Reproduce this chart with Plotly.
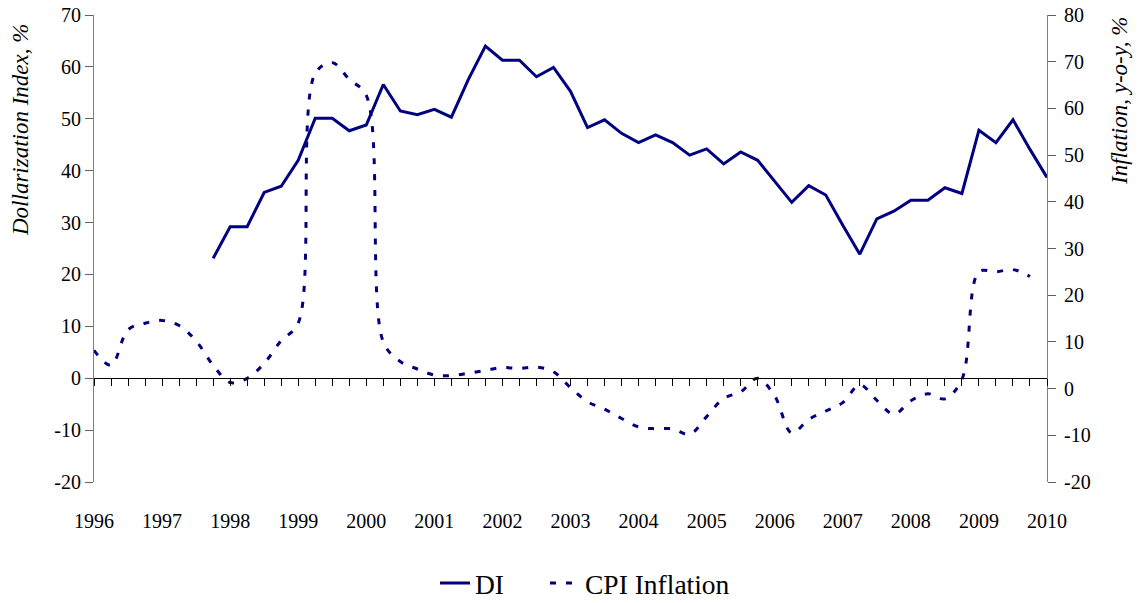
import plotly.graph_objects as go

# Quarterly time index: 1996Q1 ... 2010Q1 (year labels on the axis)
years = list(range(1996, 2011))
quarters = [1996 + i / 4 for i in range(57)]
quarter_text = [str(int(q)) if q == int(q) else "" for q in quarters]

# Dollarization Index (%), 1997Q4 .. 2010Q1 (left axis)
di_x = quarters[7:]
di_values = [23.1, 29.2, 29.2, 35.8, 37.0, 42.0, 50.1, 50.1, 47.7, 48.8,
             56.6, 51.5, 50.8, 51.8, 50.3, 57.6, 64.0, 61.3, 61.3, 58.1,
             59.9, 55.3, 48.3, 49.8, 47.2, 45.4, 46.9, 45.4, 43.0, 44.2,
             41.3, 43.6, 42.0, 38.0, 33.9, 37.1, 35.3, 29.5, 23.9, 30.7,
             32.2, 34.3, 34.3, 36.7, 35.6, 47.8, 45.4, 49.8, 44.1, 38.7]

# CPI inflation, y-o-y (%), 1996Q1 .. 2009Q4 (right axis)
cpi_x = quarters[:56]
cpi_values = [8.2, 5.0, 12.6, 14.0, 14.6, 13.5, 10.2, 5.0, 1.3, 2.2,
              5.4, 10.3, 14.0, 67.5, 69.8, 66.2, 62.8, 10.0, 5.8, 4.2,
              2.9, 2.8, 3.3, 3.9, 4.5, 4.3, 4.6, 3.6, 0.2, -2.8,
              -4.4, -6.4, -8.2, -8.6, -8.6, -9.8, -6.0, -2.1, -0.7, 2.2,
              -1.6, -9.5, -6.6, -4.8, -3.0, 0.8, -2.5, -5.5, -2.6, -1.1,
              -2.2, 2.0, 25.0, 25.0, 25.5, 24.0]

# Axis tick labels
left_ticks = [-20, -10, 0, 10, 20, 30, 40, 50, 60, 70]
right_ticks = [-20, -10, 0, 10, 20, 30, 40, 50, 60, 70, 80]
left_text = [str(v) for v in left_ticks]
right_text = [str(v) for v in right_ticks]

NAVY = "#000080"
FONT = "Liberation Serif"

fig = go.Figure()
fig.add_trace(go.Scatter(
    x=di_x, y=di_values, name="DI", mode="lines", legendwidth=65,
    line=dict(color=NAVY, width=3), yaxis="y"))
fig.add_trace(go.Scatter(
    x=cpi_x, y=cpi_values, name="CPI Inflation", mode="lines",
    line=dict(color=NAVY, width=3, dash="6px,10px", shape="spline", smoothing=1.0),
    yaxis="y2"))

fig.update_layout(
    width=1138, height=603,
    margin=dict(l=94, r=91, t=15, b=121),
    paper_bgcolor="white", plot_bgcolor="white",
    font=dict(family=FONT, size=20, color="black"),
    showlegend=True,
    legend=dict(orientation="h", xref="container", yref="container",
                x=435 / 1138, xanchor="left", y=1 - 583 / 603, yanchor="middle",
                font=dict(family=FONT, size=27.5, color="black"),
                bgcolor="rgba(0,0,0,0)"),
    xaxis=dict(range=[1996, 2010], anchor="free", position=20 / 90,
               tickmode="array", tickvals=quarters, ticktext=quarter_text,
               ticks="outside", ticklen=7, tickcolor="black", tickwidth=1,
               showline=True, linecolor="black", linewidth=1,
               showgrid=False, zeroline=False, automargin=False,
               ticklabelstandoff=118,
               tickfont=dict(family=FONT, size=20, color="black")),
    yaxis=dict(range=[-20, 70], tickmode="array", tickvals=left_ticks, ticktext=left_text,
               ticks="outside", ticklen=8, tickcolor="#606060",
               showline=True, linecolor="#808080", linewidth=1,
               showgrid=False, zeroline=False, automargin=False,
               tickfont=dict(family=FONT, size=20, color="black")),
    yaxis2=dict(range=[-20, 80], tickmode="array", tickvals=right_ticks, ticktext=right_text,
                overlaying="y", side="right", anchor="x",
                ticks="outside", ticklen=8, tickcolor="#606060",
                showline=True, linecolor="#808080", linewidth=1,
                showgrid=False, zeroline=False, automargin=False,
                ticklabelstandoff=4,
                tickfont=dict(family=FONT, size=20, color="black")),
    yaxis3=dict(range=[-20, 80], tickmode="array", tickvals=right_ticks,
                overlaying="y", side="right", anchor="x",
                ticks="inside", ticklen=7, tickcolor="#606060",
                showticklabels=False, showline=False, showgrid=False,
                zeroline=False, automargin=False),
    annotations=[
        dict(text="<i>Dollarization Index, %</i>", xref="paper", yref="paper",
             x=(20 - 94) / 953, y=(482 - 130) / 467, textangle=-90,
             showarrow=False, xanchor="center", yanchor="middle",
             font=dict(family=FONT, size=23, color="black")),
        dict(text="<i>Inflation, y-o-y, %</i>", xref="paper", yref="paper",
             x=(1120 - 94) / 953, y=(482 - 101) / 467, textangle=-90,
             showarrow=False, xanchor="center", yanchor="middle",
             font=dict(family=FONT, size=23, color="black")),
    ],
)

fig.write_html("out.html", config={"displayModeBar": False},
               post_script="document.body.style.margin='0';")
